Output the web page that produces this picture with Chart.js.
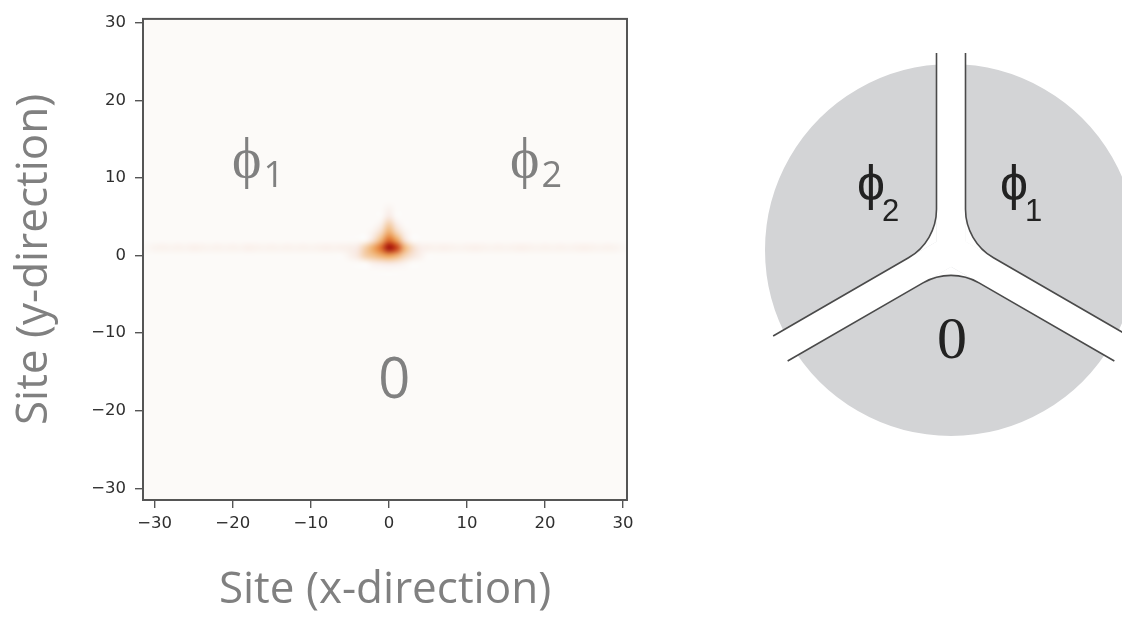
<!DOCTYPE html>
<html>
<head>
<meta charset="utf-8">
<title>Site density and phase sketch</title>
<script src="https://cdn.jsdelivr.net/npm/chart.js@4.4.1/dist/chart.umd.min.js"></script>
<style>
  html, body { margin: 0; padding: 0; background: #fff; overflow: hidden; }
  #wrap { position: relative; width: 1122px; height: 617px; }
  #heatBox { position: absolute; left: 0; top: 0; width: 700px; height: 617px; }
  #phaseBox { position: absolute; left: 736px; top: 35px; width: 430px; height: 430px; }
</style>
</head>
<body>
<div id="wrap">
  <div id="heatBox"><canvas id="heatChart"></canvas></div>
  <div id="phaseBox"><canvas id="phaseChart"></canvas></div>
</div>
<script>
// lattice extent (cell edges) and the tick labels on both axes
const siteRange = [-31.5, 30.5];
const siteTicks = [-30, -20, -10, 0, 10, 20, 30];

// bright cells round the origin: [x site, y site, density]
const peakCells = [
  [0, 1, 1.00], [1, 1, 0.78], [-1, 1, 0.62], [2, 1, 0.36], [-2, 1, 0.40],
  [3, 1, 0.18], [-3, 1, 0.24], [4, 1, 0.09], [-4, 1, 0.12], [-5, 1, 0.07],
  [0, 2, 0.62], [1, 2, 0.42], [-1, 2, 0.34], [2, 2, 0.15], [-2, 2, 0.15],
  [0, 3, 0.38], [1, 3, 0.20], [-1, 3, 0.18], [2, 3, 0.06], [-2, 3, 0.06],
  [0, 4, 0.24], [1, 4, 0.10], [-1, 4, 0.08], [0, 5, 0.12], [0, 6, 0.05],
  [0, 0, 0.44], [1, 0, 0.36], [-1, 0, 0.38], [2, 0, 0.22], [-2, 0, 0.30],
  [-3, 0, 0.24], [3, 0, 0.14], [-4, 0, 0.13], [4, 0, 0.07], [-5, 0, 0.06],
  [0, -1, 0.12], [1, -1, 0.10], [-1, -1, 0.10], [-2, -1, 0.07], [2, -1, 0.05]
];

// faint line of density along the row through the peak, x = -31 .. 30
const streakRow = 1;
const streakLevels = [
  0.02, 0.05, 0.06, 0.05, 0.06, 0.05, 0.07, 0.06, 0.05, 0.06,
  0.05, 0.06, 0.05, 0.07, 0.06, 0.05, 0.06, 0.05, 0.06, 0.05,
  0.06, 0.05, 0.06, 0.07, 0.06, 0.07, 0.08, 0.09, 0.10, 0.12,
  0.00, 0.00, 0.00, 0.10, 0.09, 0.08, 0.07, 0.06, 0.07, 0.06,
  0.05, 0.06, 0.07, 0.06, 0.05, 0.06, 0.05, 0.06, 0.07, 0.06,
  0.05, 0.06, 0.05, 0.06, 0.05, 0.06, 0.07, 0.06, 0.05, 0.06,
  0.05, 0.02
];

// three regions of the phase sketch, clockwise from the top
const phaseNames = ['ϕ', '0', 'ϕ'];
const phaseSubs = ['1', '', '2'];
const phaseShares = [1, 1, 1];

// white -> pale pink -> orange -> dark red
const cmapStops = [
  [0.00, [252, 250, 248]],
  [0.12, [248, 233, 226]],
  [0.30, [242, 192, 140]],
  [0.50, [234, 146, 62]],
  [0.72, [210, 76, 24]],
  [1.00, [160, 12, 10]]
];

function cmap(v) {
  v = Math.max(0, Math.min(1, v));
  for (let i = 1; i < cmapStops.length; i++) {
    const [p1, c1] = cmapStops[i];
    const [p0, c0] = cmapStops[i - 1];
    if (v <= p1) {
      const t = (v - p0) / (p1 - p0);
      return c0.map((c, k) => Math.round(c + (c1[k] - c) * t));
    }
  }
  return cmapStops[cmapStops.length - 1][1];
}

const minus = v => String(v).replace('-', '\u2212');

// density image painted into the plot area through the x / y scales
const heatLayer = {
  id: 'heatLayer',
  beforeDatasetsDraw(chart) {
    const {ctx, scales: {x, y}} = chart;
    const x0 = siteRange[0] + 0.5, n = siteRange[1] - siteRange[0];
    const yTop = siteRange[1] - 0.5;
    const grid = [];
    for (let j = 0; j < n; j++) grid.push(new Array(n).fill(0));
    const row = yTop - streakRow;
    streakLevels.forEach((v, i) => { grid[row][i] = v; });
    peakCells.forEach(([cx, cy, v]) => {
      const i = cx - x0, j = yTop - cy;
      grid[j][i] = Math.max(grid[j][i], v);
    });

    const off = document.createElement('canvas');
    off.width = n; off.height = n;
    const octx = off.getContext('2d');
    const img = octx.createImageData(n, n);
    for (let j = 0; j < n; j++) {
      for (let i = 0; i < n; i++) {
        const c = cmap(grid[j][i]);
        const p = (j * n + i) * 4;
        img.data[p] = c[0]; img.data[p + 1] = c[1]; img.data[p + 2] = c[2]; img.data[p + 3] = 255;
      }
    }
    octx.putImageData(img, 0, 0);

    const left = x.getPixelForValue(siteRange[0]);
    const right = x.getPixelForValue(siteRange[1]);
    const top = y.getPixelForValue(siteRange[1]);
    const bottom = y.getPixelForValue(siteRange[0]);
    ctx.save();
    ctx.imageSmoothingEnabled = true;
    ctx.imageSmoothingQuality = 'high';
    ctx.drawImage(off, left, top, right - left, bottom - top);
    ctx.restore();
  }
};

// box round the plot area
const frame = {
  id: 'frame',
  afterDatasetsDraw(chart) {
    const {ctx, chartArea: a} = chart;
    ctx.save();
    ctx.strokeStyle = '#555';
    ctx.lineWidth = 2;
    ctx.strokeRect(a.left, a.top, a.right - a.left, a.bottom - a.top);
    ctx.restore();
  }
};

// big grey region names written over the density map
const regionLabels = {
  id: 'regionLabels',
  afterDatasetsDraw(chart, args, opts) {
    const {ctx, scales: {x, y}} = chart;
    ctx.save();
    ctx.fillStyle = opts.color;
    opts.items.forEach(it => {
      const px = x.getPixelForValue(it.x), py = y.getPixelForValue(it.y);
      ctx.font = opts.size + 'px ' + opts.family;
      ctx.textAlign = 'center';
      ctx.textBaseline = 'middle';
      ctx.fillText(it.text, px, py);
      if (it.sub) {
        const w = ctx.measureText(it.text).width;
        ctx.font = opts.subSize + 'px ' + opts.family;
        ctx.textAlign = 'left';
        ctx.textBaseline = 'alphabetic';
        ctx.fillText(it.sub, px + w / 2 + 2, py + 26);
      }
    });
    ctx.restore();
  }
};

const axisFont = {family: 'DejaVu Sans', size: 16.5};
const titleFont = {family: '"Open Sans"', size: 44};

new Chart(document.getElementById('heatChart'), {
  type: 'scatter',
  data: {
    datasets: [{
      data: peakCells.map(c => ({x: c[0], y: c[1]})),
      pointRadius: 0
    }]
  },
  options: {
    responsive: true,
    maintainAspectRatio: false,
    animation: false,
    events: [],
    layout: {padding: {left: 0, top: 17, right: 73, bottom: 0}},
    plugins: {
      legend: {display: false},
      tooltip: {enabled: false},
      regionLabels: {
        color: '#808080', family: '"Open Sans"', size: 56, subSize: 36,
        items: [
          {text: 'ϕ', sub: '1', x: -18.2, y: 12.2},
          {text: 'ϕ', sub: '2', x: 17.4, y: 12.2},
          {text: '0', sub: '', x: 0.7, y: -16.3}
        ]
      }
    },
    scales: {
      x: {
        type: 'linear', min: siteRange[0], max: siteRange[1],
        afterBuildTicks: s => { s.ticks = siteTicks.map(v => ({value: v})); },
        afterFit: s => { s.height = 117; },
        grid: {drawOnChartArea: false, tickLength: 8, color: '#555', lineWidth: 1.4},
        border: {display: false},
        ticks: {font: axisFont, color: '#2e2e2e', padding: 6, maxRotation: 0, callback: minus},
        title: {display: true, text: 'Site (x-direction)', color: '#808080', font: titleFont, padding: {top: 0, bottom: 0}}
      },
      y: {
        type: 'linear', min: siteRange[0], max: siteRange[1],
        afterBuildTicks: s => { s.ticks = siteTicks.map(v => ({value: v})); },
        afterFit: s => { s.width = 143; },
        grid: {drawOnChartArea: false, tickLength: 8, color: '#555', lineWidth: 1.4},
        border: {display: false},
        ticks: {font: axisFont, color: '#2e2e2e', padding: 9, callback: minus},
        title: {display: true, text: 'Site (y-direction)', color: '#808080', font: titleFont, padding: {top: 8, bottom: 0}}
      }
    }
  },
  plugins: [heatLayer, frame, regionLabels]
});

// rounded channel walls between the three regions, taken from the arc geometry
const channelEdges = {
  id: 'channelEdges',
  afterDatasetsDraw(chart, args, opts) {
    const {ctx} = chart;
    const arcs = chart.getDatasetMeta(0).data;
    const bw = chart.data.datasets[0].borderWidth;
    const h = bw / 2, r = opts.cornerRadius;
    ctx.save();
    arcs.forEach(arc => {
      const {x, y, startAngle: s, endAngle: e, outerRadius} = arc.getProps(['x', 'y', 'startAngle', 'endAngle', 'outerRadius'], true);
      const R = outerRadius - h, L = R + opts.overhang;
      const half = (e - s) / 2, mid = (s + e) / 2;
      const ds = [Math.cos(s), Math.sin(s)], de = [Math.cos(e), Math.sin(e)];
      const ns = [-ds[1], ds[0]], ne = [-de[1], de[0]];
      const pd = h / Math.sin(half);
      const P = [x + pd * Math.cos(mid), y + pd * Math.sin(mid)];
      const k = r / Math.tan(half);
      const T1 = [P[0] + k * ds[0], P[1] + k * ds[1]];
      const T2 = [P[0] + k * de[0], P[1] + k * de[1]];
      const F1 = [x + L * ds[0] + h * ns[0], y + L * ds[1] + h * ns[1]];
      const F2 = [x + L * de[0] - h * ne[0], y + L * de[1] - h * ne[1]];

      // clear the sharp corner left by the slice border
      ctx.beginPath();
      ctx.moveTo(P[0], P[1]);
      ctx.lineTo(T1[0], T1[1]);
      ctx.arcTo(P[0], P[1], T2[0], T2[1], r);
      ctx.closePath();
      ctx.fillStyle = '#fff';
      ctx.fill();

      ctx.beginPath();
      ctx.moveTo(F1[0], F1[1]);
      ctx.arcTo(P[0], P[1], F2[0], F2[1], r);
      ctx.lineTo(F2[0], F2[1]);
      ctx.strokeStyle = opts.color;
      ctx.lineWidth = opts.width;
      ctx.stroke();
    });
    ctx.restore();
  }
};

// region names inside the sketch
const phaseText = {
  id: 'phaseText',
  afterDatasetsDraw(chart, args, opts) {
    const {ctx} = chart;
    const arcs = chart.getDatasetMeta(0).data;
    ctx.save();
    ctx.fillStyle = opts.color;
    arcs.forEach((arc, i) => {
      const [dx, dy] = opts.offsets[i];
      const px = arc.x + dx, py = arc.y + dy;
      const main = phaseNames[i], sub = phaseSubs[i];
      ctx.font = sub ? opts.phiFont : opts.zeroFont;
      ctx.textAlign = 'center';
      ctx.textBaseline = 'middle';
      ctx.fillText(main, px, py);
      if (sub) {
        const w = ctx.measureText(main).width;
        ctx.font = opts.subFont;
        ctx.textAlign = 'left';
        ctx.textBaseline = 'alphabetic';
        ctx.fillText(sub, px + w / 2 - 3, py + 35);
      }
    });
    ctx.restore();
  }
};

new Chart(document.getElementById('phaseChart'), {
  type: 'pie',
  data: {
    labels: phaseNames.map((n, i) => n + phaseSubs[i]),
    datasets: [{
      data: phaseShares,
      backgroundColor: '#d3d4d6',
      borderColor: '#ffffff',
      borderWidth: 29,
      borderAlign: 'center'
    }]
  },
  options: {
    responsive: true,
    maintainAspectRatio: false,
    animation: false,
    events: [],
    rotation: 0,
    plugins: {
      legend: {display: false},
      tooltip: {enabled: false},
      channelEdges: {cornerRadius: 56, overhang: 11, color: '#4a4a4a', width: 1.6},
      phaseText: {
        color: '#222',
        phiFont: '50px "Liberation Sans"',
        subFont: '31px "Liberation Sans"',
        zeroFont: '60px "Liberation Serif"',
        offsets: [[63, -64], [1, 92], [-80, -64]]
      }
    }
  },
  plugins: [channelEdges, phaseText]
});
</script>
</body>
</html>
